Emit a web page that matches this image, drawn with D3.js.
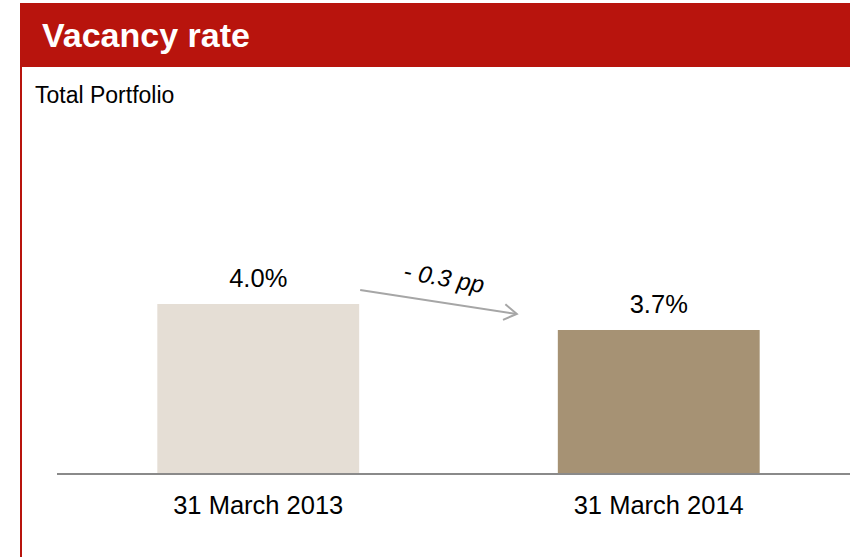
<!DOCTYPE html>
<html><head><meta charset="utf-8">
<script src="https://cdn.jsdelivr.net/npm/d3@7/dist/d3.min.js"></script>
<style>html,body{margin:0;padding:0;background:#fff;}svg{display:block;}</style>
</head><body>
<script>
const categories = ["31 March 2013", "31 March 2014"];
const values = [4.0, 3.7];
const valueLabels = ["4.0%", "3.7%"];
const changeLabel = "- 0.3 pp";
const title = "Vacancy rate";
const subtitle = "Total Portfolio";
const barColors = ["#E5DED5", "#A69274"];

const W = 850, H = 557;
const svg = d3.select("body").append("svg").attr("width", W).attr("height", H);
const font = "Arial, 'Liberation Sans', Helvetica, sans-serif";

// header
svg.append("rect").attr("x", 20).attr("y", 3).attr("width", W - 20).attr("height", 64).attr("fill", "#B8140D");
svg.append("rect").attr("x", 20).attr("y", 67).attr("width", 2).attr("height", H - 67).attr("fill", "#B8140D");
svg.append("text").attr("x", 42).attr("y", 47).attr("fill", "#fff")
  .attr("font-family", font).attr("font-weight", "bold").attr("font-size", 34).text(title);
svg.append("text").attr("x", 35).attr("y", 103).attr("fill", "#000")
  .attr("font-family", font).attr("font-size", 23).text(subtitle);

const baseY = 473;
const x = d3.scaleBand().domain(categories).range([58, 859]).paddingInner(0.496).paddingOuter(0.248);
const y = d3.scaleLinear().domain([2.05, 5]).range([baseY, baseY - 86.67 * (5 - 2.05)]);

svg.selectAll("rect.bar").data(values).enter().append("rect").attr("class", "bar")
  .attr("x", (d, i) => x(categories[i])).attr("width", x.bandwidth())
  .attr("y", d => y(d)).attr("height", d => baseY - y(d))
  .attr("fill", (d, i) => barColors[i]);

// baseline
svg.append("line").attr("x1", 57).attr("x2", W).attr("y1", baseY + 1).attr("y2", baseY + 1)
  .attr("stroke", "#8A8A8A").attr("stroke-width", 2);

// value labels
svg.selectAll("text.val").data(values).enter().append("text").attr("class", "val")
  .attr("x", (d, i) => x(categories[i]) + x.bandwidth() / 2).attr("y", d => y(d) - 17)
  .attr("text-anchor", "middle").attr("font-family", font).attr("font-size", 25.5).attr("fill", "#000")
  .text((d, i) => valueLabels[i]);

// category labels
svg.selectAll("text.cat").data(categories).enter().append("text").attr("class", "cat")
  .attr("x", d => x(d) + x.bandwidth() / 2).attr("y", 514)
  .attr("text-anchor", "middle").attr("font-family", font).attr("font-size", 25.5).attr("fill", "#000")
  .text(d => d);

// arrow
const x1 = x(categories[0]) + x.bandwidth() + 1, y1 = y(values[0]) - 14;
const x2 = x(categories[1]) - 41, y2 = y(values[1]) - 16;
const ang = Math.atan2(y2 - y1, x2 - x1);
svg.append("line").attr("x1", x1).attr("y1", y1).attr("x2", x2).attr("y2", y2)
  .attr("stroke", "#A6A6A6").attr("stroke-width", 2);
const ah = 15, spread = 0.55;
const p = d3.path();
p.moveTo(x2 - ah * Math.cos(ang - spread), y2 - ah * Math.sin(ang - spread));
p.lineTo(x2, y2);
p.lineTo(x2 - ah * Math.cos(ang + spread), y2 - ah * Math.sin(ang + spread));
svg.append("path").attr("d", p.toString()).attr("fill", "none")
  .attr("stroke", "#A6A6A6").attr("stroke-width", 2);
const mx = (x1 + x2) / 2, my = (y1 + y2) / 2;
svg.append("text").attr("transform", `translate(${mx + 4},${my - 16}) rotate(${ang * 180 / Math.PI + 1.5})`)
  .attr("text-anchor", "middle").attr("font-family", font).attr("font-style", "italic")
  .attr("font-size", 24).attr("fill", "#000").text(changeLabel);
</script>
</body></html>
